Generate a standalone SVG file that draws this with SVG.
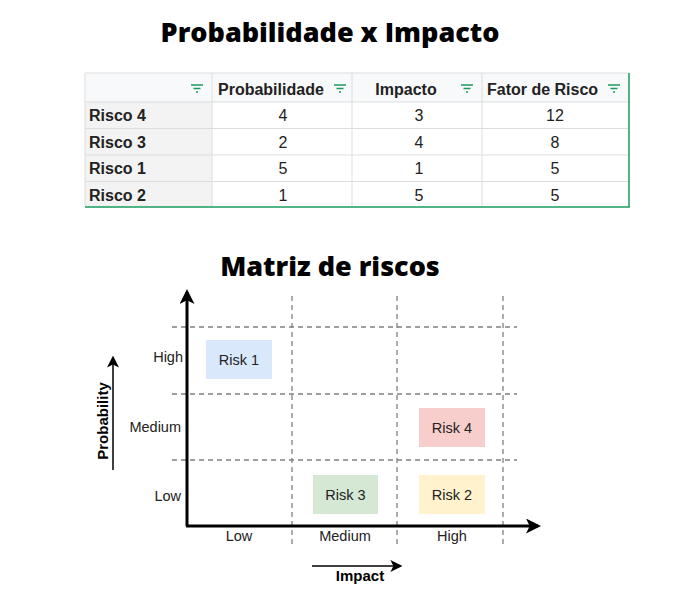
<svg xmlns="http://www.w3.org/2000/svg" width="700" height="600" viewBox="0 0 700 600">
<style>
.title{font-family:"Open Sans","Noto Sans",sans-serif;font-weight:800;font-size:27px;fill:#000}
.th{font-family:"Liberation Sans",Arial,sans-serif;font-weight:bold;font-size:16px;fill:#222}
.td{font-family:"Liberation Sans",Arial,sans-serif;font-size:16px;fill:#222;text-anchor:middle}
.grid{stroke:#dddddd;stroke-width:1}
.flt{stroke:#1a9b5c;stroke-width:1.5}
.dash{stroke:#808080;stroke-width:1.3;stroke-dasharray:5,4;fill:none}
.lbl{font-family:"Liberation Sans",Arial,sans-serif;font-size:14.5px;fill:#222}
.risk{font-family:"Liberation Sans",Arial,sans-serif;font-size:14.5px;fill:#222;text-anchor:middle}
.ax{stroke:#000;stroke-width:3;fill:none}
.ax2{stroke:#000;stroke-width:1.5;fill:none}
.bl{font-family:"Liberation Sans",Arial,sans-serif;font-weight:bold;font-size:15px;fill:#000}
</style>
<defs>
<marker id="ah" viewBox="0 0 10 10" refX="8" refY="5" markerWidth="5" markerHeight="5" orient="auto" markerUnits="strokeWidth">
<path d="M0,0 L10,5 L0,10 L2.5,5 z" fill="#000"/>
</marker>
<marker id="ah2" viewBox="0 0 10 10" refX="8" refY="5" markerWidth="8" markerHeight="8" orient="auto" markerUnits="strokeWidth">
<path d="M0,0 L10,5 L0,10 L2.5,5 z" fill="#000"/>
</marker>
<g id="filter"><line x1="-6" y1="0" x2="6" y2="0" class="flt"/><line x1="-3.5" y1="3.5" x2="3.5" y2="3.5" class="flt"/><line x1="-1" y1="7" x2="1" y2="7" class="flt"/></g>
</defs>
<rect width="700" height="600" fill="#fff"/>
<text class="title" x="330" y="42" text-anchor="middle">Probabilidade x Impacto</text>

<g id="table">
<rect x="85" y="73" width="544" height="29" fill="#f8f9fa"/>
<rect x="85" y="102" width="127" height="105" fill="#f3f3f3"/>
<line x1="85" y1="73" x2="629" y2="73" class="grid"/>
<line x1="85" y1="102" x2="629" y2="102" class="grid"/>
<line x1="85" y1="128.5" x2="629" y2="128.5" class="grid"/>
<line x1="85" y1="155" x2="629" y2="155" class="grid"/>
<line x1="85" y1="181.5" x2="629" y2="181.5" class="grid"/>
<line x1="85" y1="73" x2="85" y2="207" class="grid"/>
<line x1="212" y1="73" x2="212" y2="207" class="grid"/>
<line x1="352" y1="73" x2="352" y2="207" class="grid"/>
<line x1="482" y1="73" x2="482" y2="207" class="grid"/>
<line x1="629" y1="73" x2="629" y2="207" stroke="#1a9b5c" stroke-width="1.5"/>
<line x1="85" y1="207" x2="629.7" y2="207" stroke="#1a9b5c" stroke-width="1.5"/>
<use href="#filter" x="197" y="85"/>
<use href="#filter" x="340" y="85"/>
<use href="#filter" x="467" y="85"/>
<use href="#filter" x="614" y="85"/>
<text class="th" x="218" y="95">Probabilidade</text>
<text class="th" x="406" y="95" text-anchor="middle">Impacto</text>
<text class="th" x="487" y="95">Fator de Risco</text>
<text class="th" x="89" y="121">Risco 4</text>
<text class="th" x="89" y="148">Risco 3</text>
<text class="th" x="89" y="174">Risco 1</text>
<text class="th" x="89" y="201">Risco 2</text>
<text class="td" x="283" y="121">4</text>
<text class="td" x="419" y="121">3</text>
<text class="td" x="555" y="121">12</text>
<text class="td" x="283" y="148">2</text>
<text class="td" x="419" y="148">4</text>
<text class="td" x="555" y="148">8</text>
<text class="td" x="283" y="174">5</text>
<text class="td" x="419" y="174">1</text>
<text class="td" x="555" y="174">5</text>
<text class="td" x="283" y="201">1</text>
<text class="td" x="419" y="201">5</text>
<text class="td" x="555" y="201">5</text>
</g>

<text class="title" x="330" y="276" text-anchor="middle">Matriz de riscos</text>

<g id="connectors">
<line x1="172" y1="327" x2="517" y2="327" class="dash"/>
<line x1="172" y1="394" x2="517" y2="394" class="dash"/>
<line x1="172" y1="460" x2="517" y2="460" class="dash"/>
<line x1="292" y1="296" x2="292" y2="547" class="dash"/>
<line x1="397" y1="296" x2="397" y2="547" class="dash"/>
<line x1="503" y1="296" x2="503" y2="547" class="dash"/>
<path d="M187,526 L187,292" class="ax" marker-end="url(#ah)"/>
<path d="M186,526 L538,526" class="ax" marker-end="url(#ah)"/>
<path d="M113,470 L113,358" class="ax2" marker-end="url(#ah2)"/>
<path d="M312,566 L400,566" class="ax2" marker-end="url(#ah2)"/>
</g>

<g id="risk1"><rect x="206" y="340" width="66" height="39" fill="#dae8fc"/><text class="risk" x="239" y="365">Risk 1</text></g>
<g id="risk4"><rect x="419" y="408" width="66" height="39" fill="#f8cecc"/><text class="risk" x="452" y="433">Risk 4</text></g>
<g id="risk3"><rect x="313" y="475" width="65" height="39" fill="#d5e8d4"/><text class="risk" x="345.5" y="500">Risk 3</text></g>
<g id="risk2"><rect x="419" y="475" width="66" height="39" fill="#fff2cc"/><text class="risk" x="452" y="500">Risk 2</text></g>

<g id="labels">
<text class="lbl" x="183" y="362" text-anchor="end">High</text>
<text class="lbl" x="181" y="432" text-anchor="end">Medium</text>
<text class="lbl" x="181" y="501" text-anchor="end">Low</text>
<text class="lbl" x="239" y="541" text-anchor="middle">Low</text>
<text class="lbl" x="345" y="541" text-anchor="middle">Medium</text>
<text class="lbl" x="452" y="541" text-anchor="middle">High</text>
<text class="bl" transform="translate(108,421) rotate(-90)" text-anchor="middle">Probability</text>
<text class="bl" x="360" y="581" text-anchor="middle">Impact</text>
</g>
</svg>
